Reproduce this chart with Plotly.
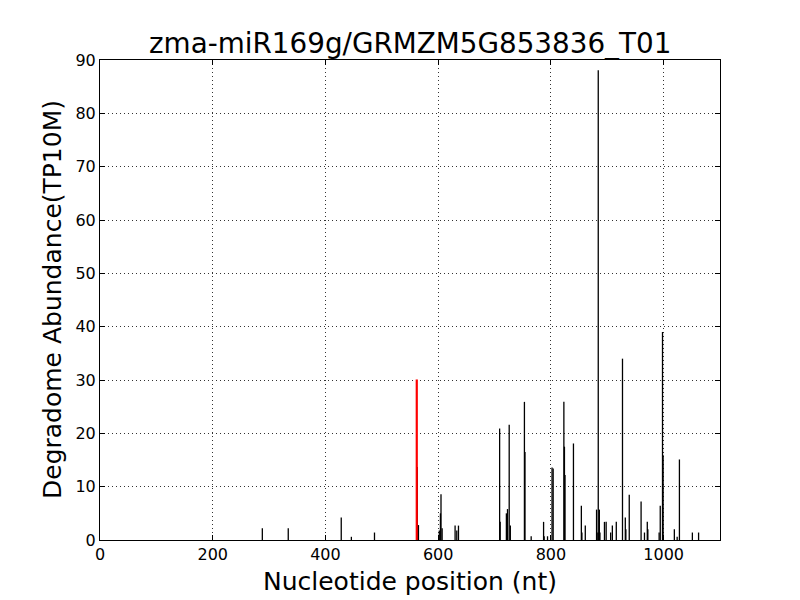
import plotly.graph_objects as go

positions = [288, 334, 428, 446, 487, 563, 565, 602, 604, 605, 607, 630, 633, 636,
             709, 710, 721, 723, 726, 728, 753, 754, 765, 787, 788, 794, 802, 804,
             823, 824, 825, 840, 854, 855, 861, 881, 882, 884, 885, 886, 887, 895,
             898, 906, 909, 916, 927, 932, 933, 939, 960, 966, 971, 972, 992, 994,
             998, 999, 1019, 1024, 1028, 1051, 1062]
abundance = [2.2, 2.2, 4.2, 0.6, 1.4, 13.7, 2.8, 1.8, 5.0, 8.6, 2.2, 2.7, 1.8, 2.7,
             20.9, 3.4, 5.0, 5.8, 21.6, 2.7, 25.9, 16.5, 0.7, 3.4, 0.7, 0.7, 13.6, 13.4,
             25.9, 17.5, 12.2, 18.1, 6.4, 1.4, 2.7, 5.7, 1.4, 88.1, 1.4, 5.7, 1.4, 3.4,
             3.4, 1.4, 2.7, 3.4, 34.0, 4.2, 2.0, 8.5, 7.2, 1.4, 3.4, 2.0, 1.4, 6.4,
             39.0, 15.9, 2.0, 0.6, 15.1, 1.4, 1.4]
target_pos = [562]
target_val = [30.1]

x_ticks = [0, 200, 400, 600, 800, 1000]
y_ticks = [0, 10, 20, 30, 40, 50, 60, 70, 80, 90]

def stems(xs, ys):
    X, Y = [], []
    for p, v in zip(xs, ys):
        X += [p, p, None]
        Y += [0, v, None]
    return X, Y

fig = go.Figure()
bx, by = stems(positions, abundance)
fig.add_trace(go.Scatter(x=bx, y=by, mode="lines", line=dict(color="black", width=1.3),
                         hoverinfo="skip", showlegend=False))
rx, ry = stems(target_pos, target_val)
fig.add_trace(go.Scatter(x=rx, y=ry, mode="lines", line=dict(color="red", width=2.2),
                         hoverinfo="skip", showlegend=False))

font = "DejaVu Sans, sans-serif"
axis_common = dict(
    showline=True, linecolor="black", linewidth=1, mirror="ticks",
    ticks="inside", ticklen=5, tickcolor="black", tickwidth=1,
    showgrid=True, gridcolor="#333333", gridwidth=1, griddash="1px,3px",
    zeroline=False, tickfont=dict(family=font, size=16, color="black"),
    automargin=False,
)
# page body has an 8px margin; size the figure so the plot lands where the reference has it
fig.update_layout(
    width=792, height=592,
    paper_bgcolor="white", plot_bgcolor="white",
    margin=dict(l=92, r=80, t=52, b=60),
    xaxis=dict(range=[0, 1100], tickvals=x_ticks, ticktext=[str(t) for t in x_ticks],
               **axis_common),
    yaxis=dict(range=[0, 90], tickvals=y_ticks, ticktext=[str(t) for t in y_ticks],
               **axis_common),
    annotations=[
        dict(text="zma-miR169g/GRMZM5G853836_T01", xref="paper", yref="paper",
             x=0.5, y=(540 - 43) / 480, xanchor="center", yanchor="middle",
             showarrow=False, font=dict(family=font, size=27.8, color="black")),
        dict(text="Nucleotide position (nt)", xref="paper", yref="paper",
             x=0.5, y=-(581 - 540) / 480, xanchor="center", yanchor="middle",
             showarrow=False, font=dict(family=font, size=25, color="black")),
        dict(text="Degradome Abundance(TP10M)", xref="paper", yref="paper",
             x=(52 - 100) / 620, y=0.5, xanchor="center", yanchor="middle", textangle=-90,
             showarrow=False, font=dict(family=font, size=25, color="black")),
    ],
)
fig.write_html("out.html")
